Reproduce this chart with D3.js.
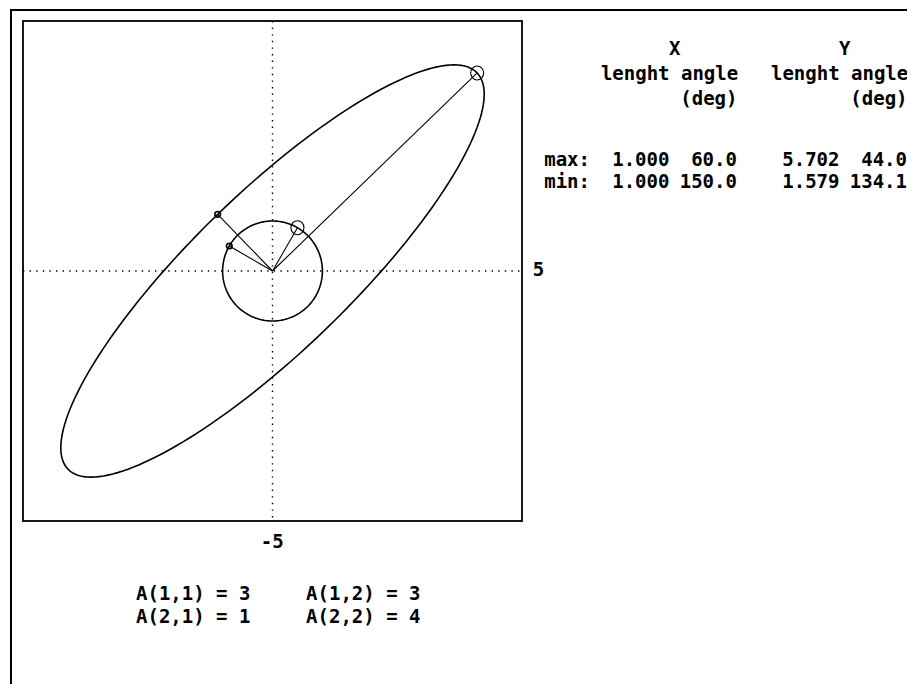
<!DOCTYPE html>
<html>
<head>
<meta charset="utf-8">
<script src="https://cdn.jsdelivr.net/npm/d3@7"></script>
<style>
  body { margin: 0; background: #fff; }
  svg text { font-family: "DejaVu Sans Mono", monospace; font-weight: bold; font-size: 19px; fill: #000; }
</style>
</head>
<body>
<script>
// matrix A (row-major)
const matrixLabels = ["A(1,1)", "A(1,2)", "A(2,1)", "A(2,2)"];
const matrixValues = [3, 3, 1, 4];

// table: X on the unit circle, Y = A*X on the ellipse
const rowLabels = ["max:", "min:"];
const xLengths = [1.000, 1.000];
const xAngles = [60.0, 150.0];
const yLengths = [5.702, 1.579];
const yAngles = [44.0, 134.1];

const axisDomain = [-5, 5];
const axisLabels = ["5", "-5"];

const W = 907, H = 684;
const colW = W / 80; // old 80 column text grid

const svg = d3.select('body').append('svg')
  .attr('width', W)
  .attr('height', H);

// scales
const xScale = d3.scaleLinear().domain(axisDomain).range([23, 522]);
const yScale = d3.scaleLinear().domain(axisDomain).range([521, 21]);

// outer frame (only top and left visible)
svg.append('path')
  .attr('d', `M11,${H} V10 H${W}`)
  .attr('fill', 'none')
  .attr('stroke', '#000')
  .attr('stroke-width', 2);

// plot box
svg.append('rect')
  .attr('x', xScale(-5))
  .attr('y', yScale(5))
  .attr('width', xScale(5) - xScale(-5))
  .attr('height', yScale(-5) - yScale(5))
  .attr('fill', 'none')
  .attr('stroke', '#000')
  .attr('stroke-width', 1.8);

// dotted axes through origin
svg.append('line')
  .attr('x1', xScale(-5)).attr('x2', xScale(5))
  .attr('y1', yScale(0)).attr('y2', yScale(0))
  .attr('stroke', '#000').attr('stroke-width', 1.4)
  .attr('stroke-dasharray', '1.4,5.2');
svg.append('line')
  .attr('x1', xScale(0)).attr('x2', xScale(0))
  .attr('y1', yScale(5)).attr('y2', yScale(-5))
  .attr('stroke', '#000').attr('stroke-width', 1.4)
  .attr('stroke-dasharray', '1.4,5.2');

// axis end labels
svg.append('text').attr('x', 47 * colW).attr('y', yScale(0) + 5).text(axisLabels[0]);
svg.append('text').attr('x', 23 * colW).attr('y', 548).text(axisLabels[1]);

const line = d3.line().x(d => xScale(d[0])).y(d => yScale(d[1]));
const ts = d3.range(0, 361, 2).map(a => a * Math.PI / 180);

// unit circle
svg.append('path')
  .attr('d', line(ts.map(t => [Math.cos(t), Math.sin(t)])))
  .attr('fill', 'none').attr('stroke', '#000').attr('stroke-width', 1.6);

// ellipse = A * unit circle
const [a11, a12, a21, a22] = matrixValues;
svg.append('path')
  .attr('d', line(ts.map(t => [a11 * Math.cos(t) + a12 * Math.sin(t), a21 * Math.cos(t) + a22 * Math.sin(t)])))
  .attr('fill', 'none').attr('stroke', '#000').attr('stroke-width', 1.6);

// vectors from the table values
const toPt = (len, ang) => [len * Math.cos(ang * Math.PI / 180), len * Math.sin(ang * Math.PI / 180)];
const vecs = [];
rowLabels.forEach((r, i) => {
  vecs.push({ p: toPt(xLengths[i], xAngles[i]), big: i === 0 });
  vecs.push({ p: toPt(yLengths[i], yAngles[i]), big: i === 0 });
});

svg.selectAll('line.vec')
  .data(vecs)
  .enter()
  .append('line')
  .attr('class', 'vec')
  .attr('x1', xScale(0)).attr('y1', yScale(0))
  .attr('x2', d => xScale(d.p[0])).attr('y2', d => yScale(d.p[1]))
  .attr('stroke', '#000').attr('stroke-width', 1.1);

svg.selectAll('ellipse.mark')
  .data(vecs)
  .enter()
  .append('ellipse')
  .attr('class', 'mark')
  .attr('cx', d => xScale(d.p[0])).attr('cy', d => yScale(d.p[1]))
  .attr('rx', d => d.big ? 6.5 : 2.8)
  .attr('ry', d => d.big ? 7 : 2.8)
  .attr('fill', 'none').attr('stroke', '#000')
  .attr('stroke-width', d => d.big ? 1.1 : 1.6);

// table on the right
const tx = col => col * colW;
const hdr = svg.append('g');
hdr.append('text').attr('x', tx(59)).attr('y', 55).text('X');
hdr.append('text').attr('x', tx(74)).attr('y', 55).text('Y');
hdr.append('text').attr('x', tx(53)).attr('y', 80).text('lenght angle');
hdr.append('text').attr('x', tx(68)).attr('y', 80).text('lenght angle');
hdr.append('text').attr('x', tx(60)).attr('y', 105).text('(deg)');
hdr.append('text').attr('x', tx(75)).attr('y', 105).text('(deg)');

const rowY = [166, 188];
const f3 = d3.format('.3f'), f1 = d3.format('.1f');
rowLabels.forEach((r, i) => {
  svg.append('text').attr('x', tx(48)).attr('y', rowY[i]).text(r);
  svg.append('text').attr('x', tx(54)).attr('y', rowY[i]).text(f3(xLengths[i]));
  svg.append('text').attr('x', tx(65)).attr('y', rowY[i]).attr('text-anchor', 'end').text(f1(xAngles[i]));
  svg.append('text').attr('x', tx(69)).attr('y', rowY[i]).text(f3(yLengths[i]));
  svg.append('text').attr('x', tx(80)).attr('y', rowY[i]).attr('text-anchor', 'end').text(f1(yAngles[i]));
});

// matrix entries below
const mCols = [12, 27], mRows = [600, 623];
matrixLabels.forEach((lab, i) => {
  svg.append('text')
    .attr('x', tx(mCols[i % 2]))
    .attr('y', mRows[Math.floor(i / 2)])
    .attr('xml:space', 'preserve')
    .text(`${lab} = ${matrixValues[i]}`);
});
</script>
</body>
</html>
